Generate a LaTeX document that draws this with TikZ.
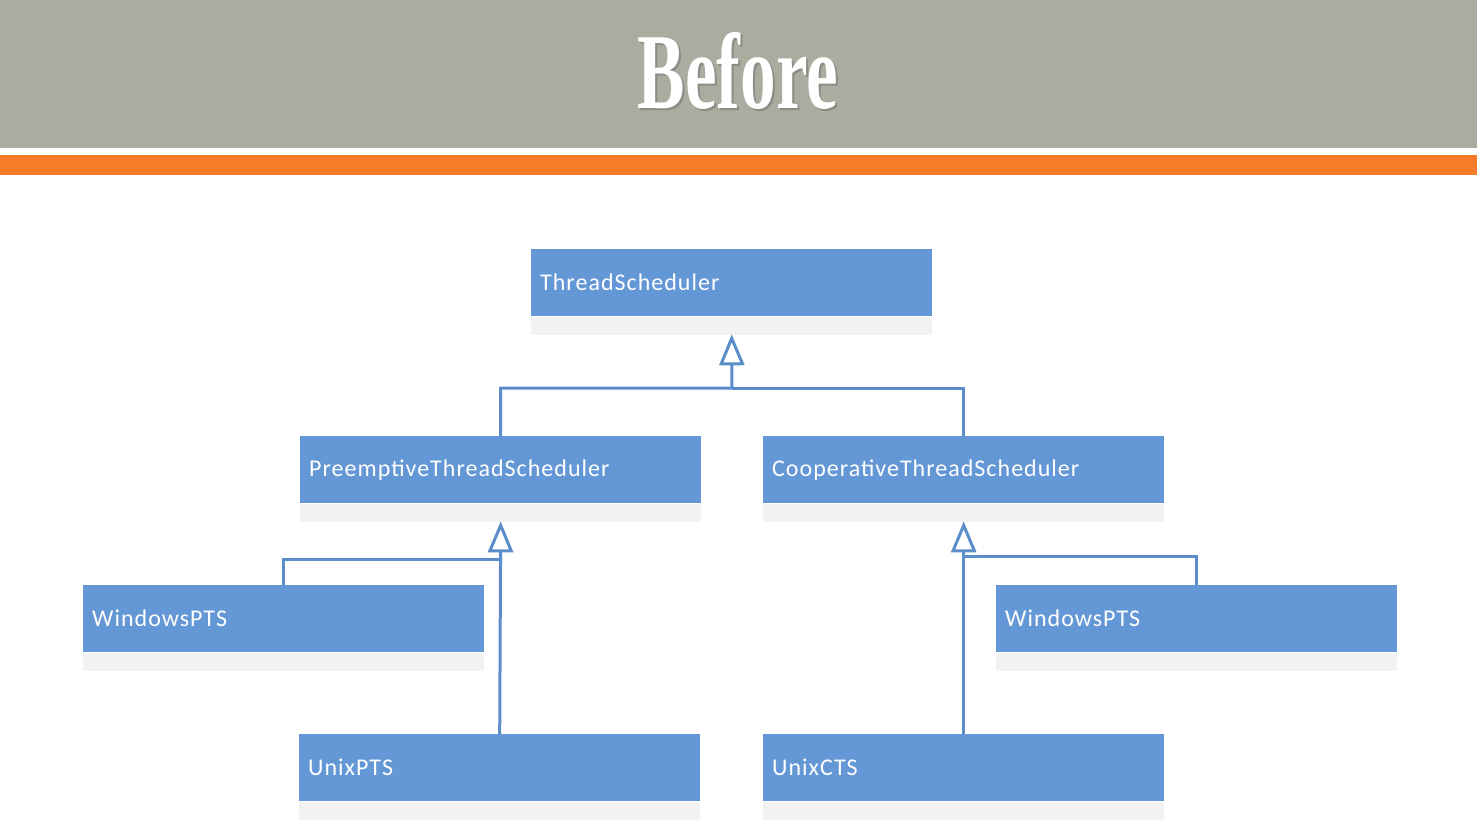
\documentclass[tikz,border=0pt]{standalone}
\usepackage{fontspec}
\setmainfont{Carlito}
\newfontfamily\boxfont[LetterSpace=4.2]{Carlito}
\newfontfamily\titlefont{Liberation Serif}
\usetikzlibrary{arrows.meta,positioning}
\definecolor{bandgray}{HTML}{A9AD9F}
\definecolor{bandorange}{HTML}{F77B28}
\definecolor{boxblue}{HTML}{6497D5}
\definecolor{linkblue}{HTML}{5B8DCB}
\definecolor{shadowgray}{HTML}{F2F2F2}
\tikzset{
  classbox/.style={fill=boxblue, draw=none, minimum width=401pt, minimum height=67pt,
    text width=383pt, inner xsep=9pt, align=left, text=white,
    font=\boxfont\fontsize{24}{27}\selectfont, anchor=north west},
  boxshade/.style={fill=shadowgray, draw=none, minimum width=401pt, minimum height=18pt,
    inner sep=0pt, anchor=north},
  link/.style={draw=linkblue, line width=3pt},
  inherit/.style={link, -{Triangle[open, length=31pt, width=25pt, line width=3pt]}},
}
\begin{document}
\begin{tikzpicture}[x=1pt,y=-1pt]
  \useasboundingbox (0,0) rectangle (1477,833);
  % header bands
  \fill[bandgray] (0,0) rectangle (1477,148);
  \fill[bandorange] (0,155) rectangle (1477,175);
  % title with soft drop shadow
  \node[text=black!60, opacity=0.45, font=\titlefont\bfseries\fontsize{108}{110}\selectfont,
        xscale=0.66, inner sep=0pt] (titleshade) at (740,73) {Before};
  \node[text=white, font=\titlefont\bfseries\fontsize{108}{110}\selectfont,
        xscale=0.66, inner sep=0pt] (title) at (738,71) {Before};

  % class boxes with their shade strips
  \node[classbox] (ts)    at (531,249) {ThreadScheduler};
  \node[boxshade] (ts-sh) at (ts.south) {};
  \node[classbox] (pts)   at (300,436) {PreemptiveThreadScheduler};
  \node[boxshade] (pts-sh) at (pts.south) {};
  \node[classbox] (cts)   at (763,436) {CooperativeThreadScheduler};
  \node[boxshade] (cts-sh) at (cts.south) {};
  \node[classbox] (wpl)   at (83,585) {WindowsPTS};
  \node[boxshade] (wpl-sh) at (wpl.south) {};
  \node[classbox] (wpr)   at (996,585) {WindowsPTS};
  \node[boxshade] (wpr-sh) at (wpr.south) {};
  \node[classbox] (upts)  at (299,734) {UnixPTS};
  \node[boxshade] (upts-sh) at (upts.south) {};
  \node[classbox] (ucts)  at (763,734) {UnixCTS};
  \node[boxshade] (ucts-sh) at (ucts.south) {};

  % junctions of the inheritance lines
  \coordinate (j-ts)  at (732,388);
  \coordinate (j-wpl) at (500,559);
  \coordinate (j-wpr) at (964,556);

  % inheritance connectors
  \draw[inherit] (pts.north) |- (j-ts) -- ([yshift=0.5pt]ts-sh.south);
  \draw[link] (cts.north) |- (j-ts);
  \draw[inherit] (upts.north) -- ([yshift=0.5pt]pts-sh.south);
  \draw[link] (wpl.north) |- (j-wpl);
  \draw[inherit] (ucts.north) -- ([yshift=0.5pt]cts-sh.south);
  \draw[link] ([xshift=-0.5pt]wpr.north) |- (j-wpr);
\end{tikzpicture}
\end{document}
